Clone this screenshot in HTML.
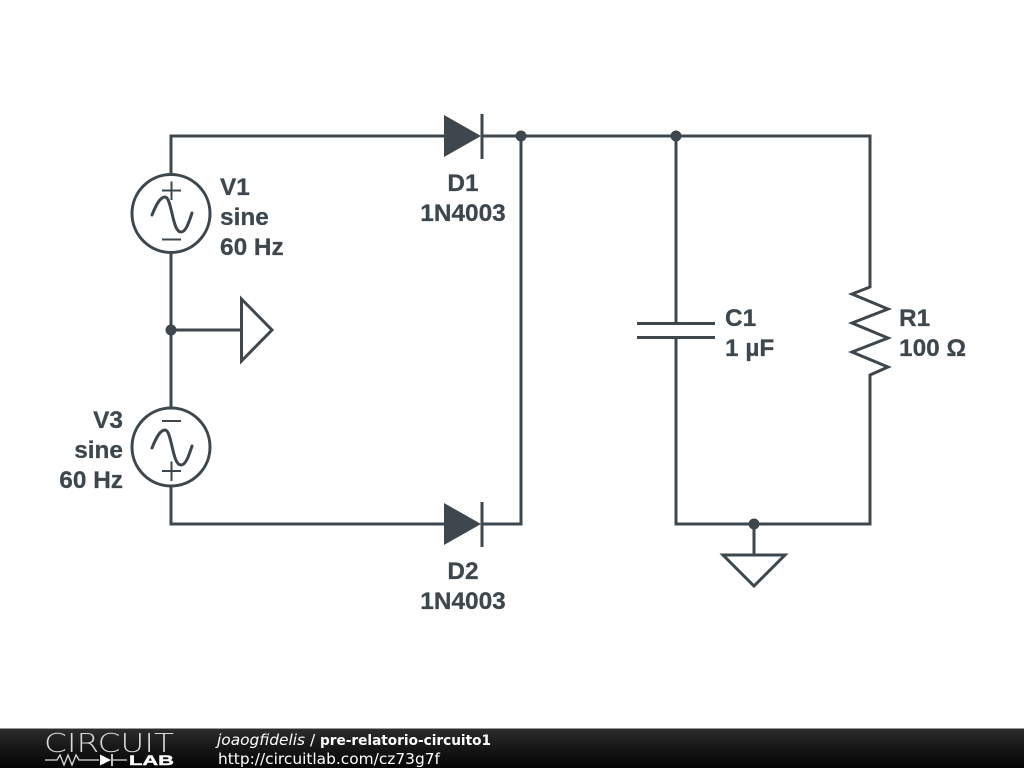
<!DOCTYPE html>
<html><head><meta charset="utf-8"><style>
html,body{margin:0;padding:0;background:#fff;width:1024px;height:768px;overflow:hidden}
svg{display:block}
.l{font:bold 24.4px "Liberation Sans",Arial,sans-serif;fill:#3d474d;stroke:#3d474d;stroke-width:.25}
.f{font-family:"DejaVu Sans",sans-serif;font-size:15.4px;fill:#fff}
</style></head><body>
<svg width="1024" height="768" viewBox="0 0 1024 768" xmlns="http://www.w3.org/2000/svg">
<defs><linearGradient id="g" x1="0" y1="0" x2="0" y2="1"><stop offset="0" stop-color="#2c2c2c"/><stop offset="0.5" stop-color="#161616"/><stop offset="1" stop-color="#050505"/></linearGradient></defs>
<g fill="none" stroke="#3d474d" stroke-width="3">
<path d="M171 174V136H444M482 136H870V287L852 294L888 309L852 323L888 338L852 352L888 367L870 375V524H676V338M676 136V324M637 323.5H715M637 337.5H715"/>
<path d="M521 136V524H482M444 524H171V486M171 253V408M171 330H241"/>
<path d="M754 524V555"/>
<path d="M241.5 299L272 330L241.5 361Z" stroke-linejoin="miter"/>
<path d="M723 555H785L754 586Z"/>
<circle cx="171" cy="213.5" r="39"/>
<circle cx="171" cy="447" r="39"/>
<path d="M152 215C156 205 160 197 165 197C172 197 172 232 181 232C186 232 189 222 192 213" stroke-linecap="round"/>
<path d="M152 448C156 438 160 430 165 430C172 430 172 465 181 465C186 465 189 455 192 446" stroke-linecap="round"/>
<path d="M482 114V159M482 502V547"/>
</g>
<g fill="none" stroke="#3d474d" stroke-width="2">
<path d="M162 190.500H181M171.500 181.500V200M162 239.500H181"/>
<path d="M162 421H181M162 471H181M171.500 461.500V481"/>
</g>
<g fill="#3d474d">
<path d="M444 115L481 136L444 157Z"/>
<path d="M444 503L481 524L444 545Z"/>
<circle cx="171" cy="330" r="5.500"/>
<circle cx="521" cy="136" r="5.500"/>
<circle cx="676" cy="136" r="5.500"/>
<circle cx="754" cy="524" r="5.500"/>
</g>
<text class="l" x="220" y="195">V1</text>
<text class="l" x="220" y="225">sine</text>
<text class="l" x="220" y="255">60 Hz</text>
<text class="l" x="123" y="428" text-anchor="end">V3</text>
<text class="l" x="123" y="458" text-anchor="end">sine</text>
<text class="l" x="123" y="488" text-anchor="end">60 Hz</text>
<text class="l" x="463" y="191" text-anchor="middle">D1</text>
<text class="l" x="463" y="221" text-anchor="middle">1N4003</text>
<text class="l" x="463" y="579" text-anchor="middle">D2</text>
<text class="l" x="463" y="609" text-anchor="middle">1N4003</text>
<text class="l" x="725" y="326">C1</text>
<text class="l" x="725" y="356">1 µF</text>
<text class="l" x="899" y="326">R1</text>
<text class="l" x="899" y="356">100 Ω</text>
<rect x="0" y="729" width="1024" height="39" fill="url(#g)"/>
<rect x="0" y="728" width="1024" height="1" fill="#999"/>
<text x="44" y="752" font-family="'DejaVu Sans Light','DejaVu Sans ExtraLight','Liberation Sans',sans-serif" font-weight="200" font-size="26" fill="#d8d8d8" textLength="130" lengthAdjust="spacingAndGlyphs">CIRCUIT</text>
<text x="129" y="765" font-family="'Liberation Sans',sans-serif" font-weight="bold" font-size="14" fill="#fff" stroke="#fff" stroke-width=".4" textLength="45" lengthAdjust="spacingAndGlyphs">LAB</text>
<path d="M45 760H57L60 755L64 765L68 755L72 765L76 755L79 760H99M113 760H127" fill="none" stroke="#ddd" stroke-width="1.300"/>
<path d="M100 754.500L111 760L100 765.500Z" fill="#fff"/>
<path d="M112 754V766" stroke="#fff" stroke-width="1.500"/>
<text class="f" x="217" y="745" font-style="italic">joaogfidelis</text>
<text class="f" x="310" y="745">/</text>
<text class="f" x="320" y="745" font-weight="bold" font-size="14" style="font-size:14.5px" textLength="171" lengthAdjust="spacingAndGlyphs">pre-relatorio-circuito1</text>
<text class="f" x="218" y="764">http://circuitlab.com/cz73g7f</text>
</svg>
</body></html>
